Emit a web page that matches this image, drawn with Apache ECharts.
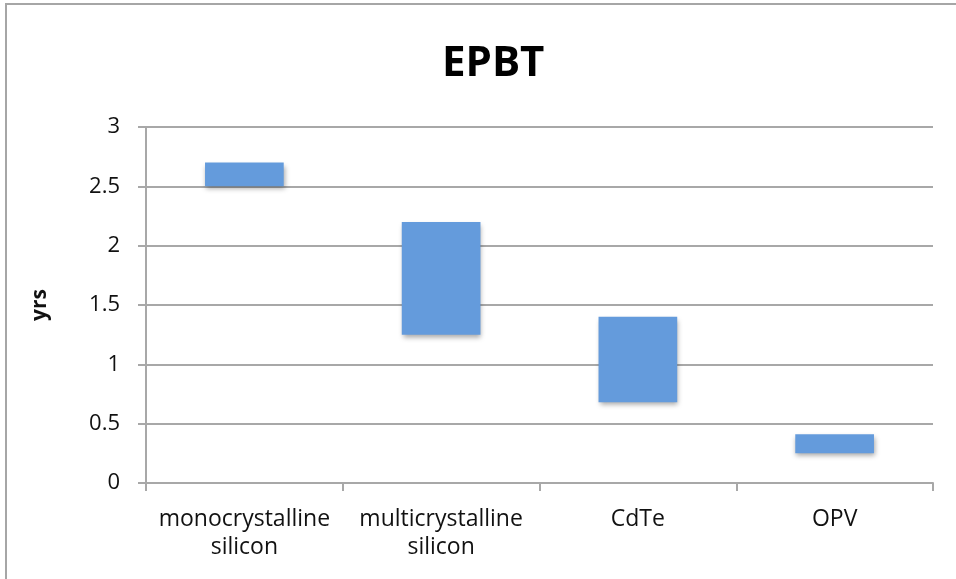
<!DOCTYPE html>
<html>
<head>
<meta charset="utf-8">
<script src="https://cdn.jsdelivr.net/npm/echarts@6/dist/echarts.min.js"></script>
<style>
  html, body { margin: 0; padding: 0; background: #fff; }
  #chart { width: 956px; height: 579px; }
</style>
</head>
<body>
<div id="chart"></div>
<script>
// Energy payback time ranges per PV technology (years)
const categories = ['monocrystalline\nsilicon', 'multicrystalline\nsilicon', 'CdTe', 'OPV'];
const lowValues  = [2.5, 1.25, 0.68, 0.25];
const highValues = [2.7, 2.2, 1.4, 0.41];
const yTicks = [0, 0.5, 1, 1.5, 2, 2.5, 3];

const FONT = '"Open Sans", "Liberation Sans", sans-serif';
const chart = echarts.init(document.getElementById('chart'), null, { renderer: 'canvas' });

const rangeData = categories.map((c, i) => [i, lowValues[i], highValues[i]]);

chart.setOption({
  animation: false,
  backgroundColor: '#ffffff',
  graphic: [{
    type: 'rect',
    shape: { x: 6, y: 4, width: 1000, height: 700 },
    style: { fill: 'none', stroke: '#a6a6a6', lineWidth: 2 },
    silent: true
  }],
  title: {
    text: 'EPBT',
    left: 437,
    top: 38,
    textStyle: { fontFamily: FONT, fontWeight: 'bold', fontSize: 42, color: '#000' }
  },
  grid: { left: 146, right: 23, top: 127, bottom: 96, containLabel: false },
  xAxis: {
    type: 'category',
    data: categories,
    boundaryGap: true,
    axisLine: { lineStyle: { color: '#a8a8a8', width: 2 } },
    axisTick: { show: true, length: 8, lineStyle: { color: '#a8a8a8', width: 2 } },
    axisLabel: {
      fontFamily: FONT, fontSize: 23, color: '#111', margin: 22, lineHeight: 28, interval: 0
    }
  },
  yAxis: {
    type: 'value',
    min: yTicks[0],
    max: yTicks[yTicks.length - 1],
    interval: 0.5,
    name: 'yrs',
    nameLocation: 'middle',
    nameGap: 95,
    nameRotate: 90,
    nameTextStyle: { fontFamily: FONT, fontWeight: 'bold', fontSize: 21, color: '#111' },
    axisLine: { show: true, lineStyle: { color: '#a8a8a8', width: 2 } },
    axisTick: { show: true, length: 8, lineStyle: { color: '#a8a8a8', width: 2 } },
    axisLabel: { fontFamily: FONT, fontSize: 22, color: '#111', margin: 26 },
    splitLine: { lineStyle: { color: '#a8a8a8', width: 2 } }
  },
  series: [{
    type: 'custom',
    data: rangeData,
    encode: { x: 0, y: [1, 2] },
    renderItem: function (params, api) {
      const idx = api.value(0);
      const lo = api.coord([idx, api.value(1)]);
      const hi = api.coord([idx, api.value(2)]);
      const w = api.size([1, 0])[0] * 0.4;
      return {
        type: 'rect',
        shape: { x: lo[0] - w / 2, y: hi[1], width: w, height: lo[1] - hi[1] },
        style: {
          fill: '#649bdc',
          shadowBlur: 5,
          shadowOffsetX: 1,
          shadowOffsetY: 3,
          shadowColor: 'rgba(0,0,0,0.35)'
        }
      };
    }
  }]
});
</script>
</body>
</html>
